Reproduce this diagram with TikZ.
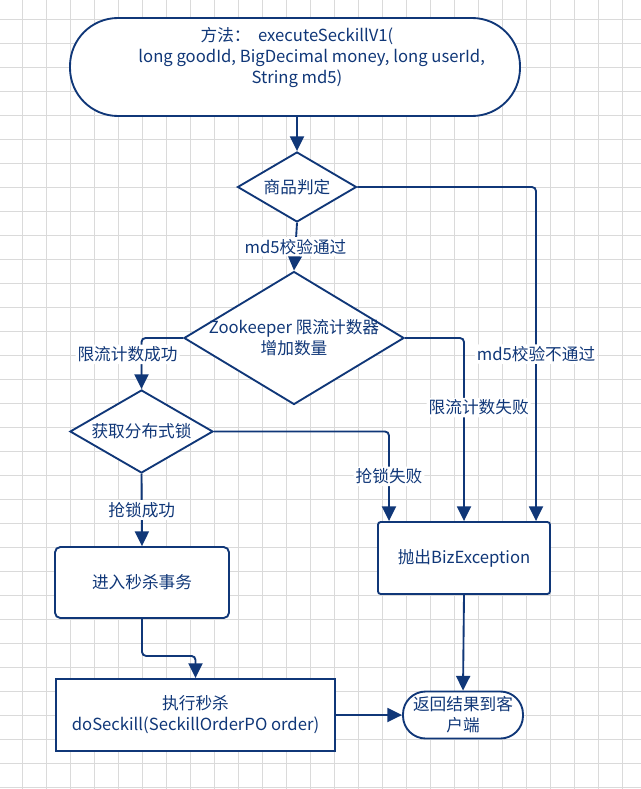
\documentclass[tikz,border=0pt]{standalone}
\usepackage{fontspec}
\setmainfont{Noto Sans CJK SC}
\usepackage{xcolor}
\usepackage{tikz}
\usetikzlibrary{calc}
\usetikzlibrary{shapes.geometric}
\usetikzlibrary{arrows.meta}
\definecolor{ink}{RGB}{16,55,120}
\definecolor{gridgray}{RGB}{218,218,218}
\newcommand{\mainfs}{\fontsize{12.5pt}{15.75pt}\selectfont}
\tikzstyle{gridline} = [draw=gridgray, line width=0.75pt]
\tikzstyle{flowline} = [draw=ink, line width=1.4pt, rounded corners=3pt,
-{Triangle[length=11pt,width=10.5pt]}]
\tikzstyle{decide} = [draw=ink, fill=white, line width=1.4pt, diamond,
inner sep=0pt]
\tikzstyle{procbox} = [draw=ink, fill=white, line width=1.4pt, rectangle,
text=ink, font=\mainfs, align=center]
\tikzstyle{plaintext} = [text=ink, font=\mainfs, align=center, inner sep=0pt]
\tikzstyle{edgelabel} = [fill=white, text=ink, font=\mainfs, inner sep=1.5pt]

\begin{document}
\begin{tikzpicture}[x=0.75pt, y=-0.75pt]
        \fill[white] (0,0) rectangle (641,789);
        \useasboundingbox (0,0) rectangle (641,789);
        \foreach \gx in {0,...,26}
            \draw[gridline] ({22.7+24*\gx},0) -- ({22.7+24*\gx},789);
        \foreach \gy in {0,...,32}
            \draw[gridline] (0,{19.3+24*\gy}) -- (641,{19.3+24*\gy});

        \node[procbox, minimum width=337.5pt, minimum height=73.5pt, rounded corners=36pt] (start) at (295,67) {};
        \node[plaintext] (starttext) at (297,58) {方法：\ \ executeSeckillV1(\\\hspace*{22pt}long goodId, BigDecimal money, long userId,\\String md5)};
        \node[decide, minimum width=89.25pt, minimum height=52.5pt,
            label={[plaintext]center:商品判定}] (goods) at (297,187) {};
        \node[decide, minimum width=165pt, minimum height=99.75pt,
            label={[plaintext]center:Zookeeper 限流计数器\\增加数量}] (limit) at (294,338) {};
        \node[decide, minimum width=107.25pt, minimum height=62.25pt,
            label={[plaintext]center:获取分布式锁}] (lock) at (141.5,431.5) {};
        \node[procbox, rounded corners=4pt, minimum width=130.5pt, minimum height=53.25pt] (tx) at (142,582.5) {进入秒杀事务};
        \node[procbox, minimum width=209.25pt, minimum height=54pt] (kill) at (195.5,715) {执行秒杀\\doSeckill(SeckillOrderPO order)};
        \node[procbox, rounded corners=2pt, minimum width=129pt, minimum height=54pt] (biz) at (464,558) {抛出BizException};
        \node[procbox, rounded corners=17pt, minimum width=90pt, minimum height=35.25pt, inner sep=0pt] (ret) at (463,715) {返回结果到客\\户端};

        \draw[flowline] (goods.north |- start.south) -- (goods.north);
        \draw[flowline] (goods.south) -- node[edgelabel] {md5校验通过} (limit.north);
        \draw[flowline] (goods.east) -| node[edgelabel, pos=0.75] {md5校验不通过} ($(biz.north)+(72,0)$);
        \draw[flowline] (limit.east) -| node[edgelabel, pos=0.69, xshift=11pt] {限流计数失败} (biz.north);
        \draw[flowline] (limit.west) -| node[edgelabel, pos=0.66, xshift=-10.5pt] {限流计数成功} (lock.north);
        \draw[flowline] (lock.east) -| node[edgelabel, pos=0.75] {抢锁失败} ($(biz.north)+(-75,0)$);
        \draw[flowline] (lock.south) -- node[edgelabel] {抢锁成功} (tx.north);
        \draw[flowline] (tx.south) -- ++(0,37) -| (kill.north);
        \draw[flowline] (kill.east) -- (ret.west);
        \draw[flowline] (biz.south) -- (ret.north);
    \end{tikzpicture}
\end{document}
